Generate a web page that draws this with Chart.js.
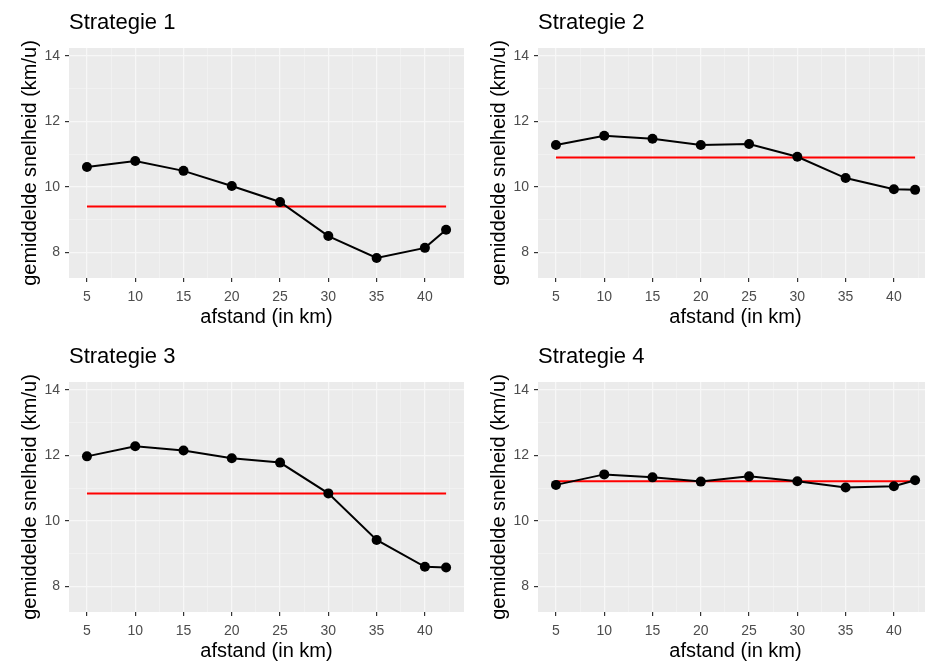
<!DOCTYPE html>
<html>
<head>
<meta charset="utf-8">
<script src="https://cdn.jsdelivr.net/npm/chart.js@4"></script>
<style>
  html, body { margin: 0; padding: 0; background: #fff; overflow: hidden; }
  .panel { position: absolute; width: 469px; height: 333px; }
</style>
</head>
<body>
<div class="panel" style="left:0;top:0"><canvas id="c1" width="469" height="333"></canvas></div>
<div class="panel" style="left:469px;top:0"><canvas id="c2" width="469" height="333"></canvas></div>
<div class="panel" style="left:0;top:334px"><canvas id="c3" width="469" height="333"></canvas></div>
<div class="panel" style="left:469px;top:334px"><canvas id="c4" width="469" height="333"></canvas></div>
<script>
const afstand = [5, 10, 15, 20, 25, 30, 35, 40, 42.195];
const strategie1 = [10.61, 10.79, 10.49, 10.03, 9.54, 8.50, 7.83, 8.14, 8.69];
const strategie2 = [11.28, 11.56, 11.47, 11.28, 11.31, 10.92, 10.27, 9.93, 9.91];
const strategie3 = [11.97, 12.28, 12.15, 11.91, 11.78, 10.84, 9.42, 8.60, 8.58];
const strategie4 = [11.10, 11.42, 11.33, 11.20, 11.36, 11.21, 11.02, 11.06, 11.24];
const gemiddelden = [9.40, 10.90, 10.84, 11.21];
const titels = ['Strategie 1', 'Strategie 2', 'Strategie 3', 'Strategie 4'];
const xTicks = [5, 7.5, 10, 12.5, 15, 17.5, 20, 22.5, 25, 27.5, 30, 32.5, 35, 37.5, 40, 42.5];
const yTicks = [8, 9, 10, 11, 12, 13, 14];

const font = '"Liberation Sans", Arial, Helvetica, sans-serif';

// grijze achtergrond van het paneel (ggplot-stijl)
const panelBg = {
    id: 'panelBg',
    beforeDraw(chart) {
        const a = chart.chartArea;
        const ctx = chart.ctx;
        ctx.save();
        ctx.fillStyle = '#EBEBEB';
        ctx.fillRect(a.left, a.top, a.right - a.left, a.bottom - a.top);
        ctx.restore();
    }
};

function maakGrafiek(id, titel, waarden, gem) {
    const punten = afstand.map((x, i) => ({ x: x, y: waarden[i] }));
    const lijn = [{ x: afstand[0], y: gem }, { x: afstand[afstand.length - 1], y: gem }];
    return new Chart(document.getElementById(id), {
        type: 'line',
        data: {
            datasets: [{
                data: punten,
                borderColor: '#000000',
                backgroundColor: '#000000',
                borderWidth: 2,
                pointRadius: 5,
                pointBorderWidth: 0,
                pointBackgroundColor: '#000000'
            }, {
                data: lijn,
                borderColor: '#FF0000',
                borderWidth: 2,
                pointRadius: 0
            }]
        },
        options: {
            responsive: false,
            animation: false,
            devicePixelRatio: 1,
            layout: { padding: { left: 0, right: 1.5, top: 0, bottom: 0 } },
            scales: {
                x: {
                    type: 'linear',
                    min: 3.14,
                    max: 44.05,
                    afterBuildTicks: (s) => { s.ticks = xTicks.map(v => ({ value: v })); },
                    afterFit: (s) => { s.height = 55; },
                    ticks: {
                        autoSkip: false,
                        maxRotation: 0,
                        padding: 7,
                        color: '#4D4D4D',
                        font: { family: font, size: 14 },
                        callback: (v) => (v % 5 === 0 ? String(v) : '')
                    },
                    grid: {
                        color: '#F7F7F7',
                        lineWidth: (c) => (c.tick && c.tick.value % 5 === 0 ? 1.2 : 0.5),
                        tickColor: (c) => (c.tick && c.tick.value % 5 === 0 ? '#333333' : 'rgba(0,0,0,0)'),
                        tickLength: 4,
                        tickWidth: 1.2
                    },
                    border: { display: false },
                    title: {
                        display: true,
                        text: 'afstand (in km)',
                        color: '#000000',
                        font: { family: font, size: 20 },
                        padding: { top: 0, bottom: 4 }
                    }
                },
                y: {
                    min: 7.22,
                    max: 14.24,
                    afterBuildTicks: (s) => { s.ticks = yTicks.map(v => ({ value: v })); },
                    afterFit: (s) => { s.width = 69; },
                    ticks: {
                        padding: 5,
                        color: '#4D4D4D',
                        font: { family: font, size: 14 },
                        callback: (v) => (v % 2 === 0 ? String(v) : '')
                    },
                    grid: {
                        color: '#F7F7F7',
                        lineWidth: (c) => (c.tick && c.tick.value % 2 === 0 ? 1.2 : 0.5),
                        tickColor: (c) => (c.tick && c.tick.value % 2 === 0 ? '#333333' : 'rgba(0,0,0,0)'),
                        tickLength: 4,
                        tickWidth: 1.2
                    },
                    border: { display: false },
                    title: {
                        display: true,
                        text: 'gemiddelde snelheid (km/u)',
                        color: '#000000',
                        font: { family: font, size: 20 },
                        padding: { top: 18, bottom: 0 }
                    }
                }
            },
            plugins: {
                legend: { display: false },
                tooltip: { enabled: false },
                title: {
                    display: true,
                    text: titel,
                    align: 'start',
                    fullSize: false,
                    color: '#000000',
                    font: { family: font, size: 22, weight: 'normal' },
                    padding: { top: 10, bottom: 11.6 }
                }
            }
        },
        plugins: [panelBg]
    });
}

maakGrafiek('c1', titels[0], strategie1, gemiddelden[0]);
maakGrafiek('c2', titels[1], strategie2, gemiddelden[1]);
maakGrafiek('c3', titels[2], strategie3, gemiddelden[2]);
maakGrafiek('c4', titels[3], strategie4, gemiddelden[3]);
</script>
</body>
</html>
